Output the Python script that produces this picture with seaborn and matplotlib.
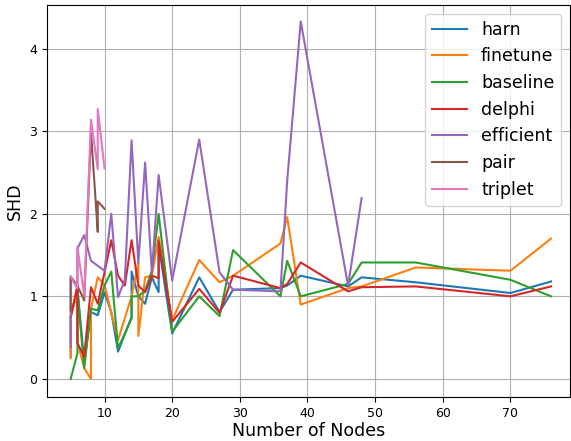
import pandas as pd
import matplotlib
matplotlib.use("Agg")
import matplotlib.pyplot as plt
import seaborn as sns

# SHD per number of nodes
harn_x = [5, 5, 6, 7, 8, 9, 10, 11, 12, 14, 14, 15, 16, 17, 18, 18, 20, 24, 27, 29, 36, 37, 39, 46, 48, 56, 70, 76]
harn_y = [0.27, 0.75, 1.10, 0.20, 0.81, 0.77, 1.05, 0.81, 0.33, 0.75, 1.30, 1.00, 0.91, 1.23, 1.05, 1.62, 0.55, 1.23, 0.81, 1.08, 1.10, 1.13, 1.25, 1.12, 1.23, 1.17, 1.04, 1.18]

finetune_x = [5, 5, 6, 6, 7, 8, 8, 9, 10, 11, 12, 14, 15, 15, 16, 17, 18, 20, 24, 27, 29, 36, 37, 39, 46, 48, 56, 70, 76]
finetune_y = [0.25, 0.75, 1.05, 0.45, 0.13, 0.00, 0.85, 1.23, 1.14, 0.80, 0.47, 1.00, 1.40, 0.52, 1.23, 1.25, 1.72, 0.71, 1.44, 1.17, 1.25, 1.64, 1.96, 0.90, 1.10, 1.12, 1.35, 1.31, 1.70]

baseline_x = [5, 6, 6, 7, 8, 9, 10, 11, 12, 14, 14, 15, 16, 17, 18, 20, 24, 27, 29, 36, 37, 39, 46, 48, 56, 70, 76]
baseline_y = [0.00, 0.31, 1.05, 0.13, 0.85, 0.83, 1.13, 1.30, 0.37, 0.73, 1.00, 1.00, 1.07, 1.31, 2.00, 0.57, 1.00, 0.76, 1.56, 1.00, 1.43, 1.00, 1.15, 1.41, 1.41, 1.20, 1.00]

delphi_x = [5, 6, 6, 7, 8, 9, 10, 11, 12, 13, 14, 15, 16, 17, 18, 18, 20, 24, 27, 29, 36, 37, 39, 46, 48, 56, 70, 76]
delphi_y = [0.75, 1.13, 0.43, 0.27, 1.11, 0.91, 1.29, 1.68, 1.25, 1.13, 1.68, 1.13, 1.05, 1.25, 1.22, 1.67, 0.69, 1.09, 0.80, 1.25, 1.10, 1.15, 1.41, 1.06, 1.11, 1.12, 1.00, 1.12]

efficient_x = [5, 5, 6, 6, 7, 8, 9, 10, 11, 12, 13, 14, 15, 16, 17, 18, 20, 24, 27, 29, 36, 37, 39, 46, 48]
efficient_y = [0.39, 1.23, 1.10, 1.58, 1.74, 1.43, 1.37, 1.31, 2.00, 0.99, 1.20, 2.89, 1.40, 2.62, 1.29, 2.47, 1.19, 2.90, 1.29, 1.08, 1.06, 2.40, 4.33, 1.13, 2.19]

pair_x = [5, 5, 6, 7, 8, 9, 9, 10]
pair_y = [0.83, 1.24, 1.13, 0.95, 2.99, 1.78, 2.15, 2.06]

triplet_x = [5, 6, 6, 7, 8, 9, 9, 10]
triplet_y = [1.24, 1.10, 1.60, 1.00, 3.14, 2.54, 3.27, 2.55]

methods = ["harn", "finetune", "baseline", "delphi", "efficient", "pair", "triplet"]
xs = [harn_x, finetune_x, baseline_x, delphi_x, efficient_x, pair_x, triplet_x]
ys = [harn_y, finetune_y, baseline_y, delphi_y, efficient_y, pair_y, triplet_y]

rows = []
for m, x, y in zip(methods, xs, ys):
    for i in range(len(x)):
        rows.append({"method": m, "nodes": x[i], "shd": y[i]})
df = pd.DataFrame(rows)

fig = plt.figure(figsize=(5.71, 4.41), dpi=100)
ax = fig.add_axes([47 / 571, 44 / 441, 523 / 571, 392 / 441])

sns.lineplot(data=df, x="nodes", y="shd", hue="method", hue_order=methods,
             palette="tab10", estimator=None, sort=False, linewidth=1.5, ax=ax)

ax.grid(True, color="#b0b0b0", linewidth=0.8)
ax.set_axisbelow(True)
ax.set_xlim(1.5, 78.8)
ax.set_ylim(-0.22, 4.53)
ax.set_xticks([10, 20, 30, 40, 50, 60, 70])
ax.set_yticks([0, 1, 2, 3, 4])
ax.tick_params(labelsize=9)
ax.set_xlabel("Number of Nodes", fontsize=12.5, labelpad=2)
ax.set_ylabel("SHD", fontsize=12.5)
ax.legend(loc="upper right", fontsize=12.5, labelspacing=0.5)

plt.savefig("out.png", dpi=100)
